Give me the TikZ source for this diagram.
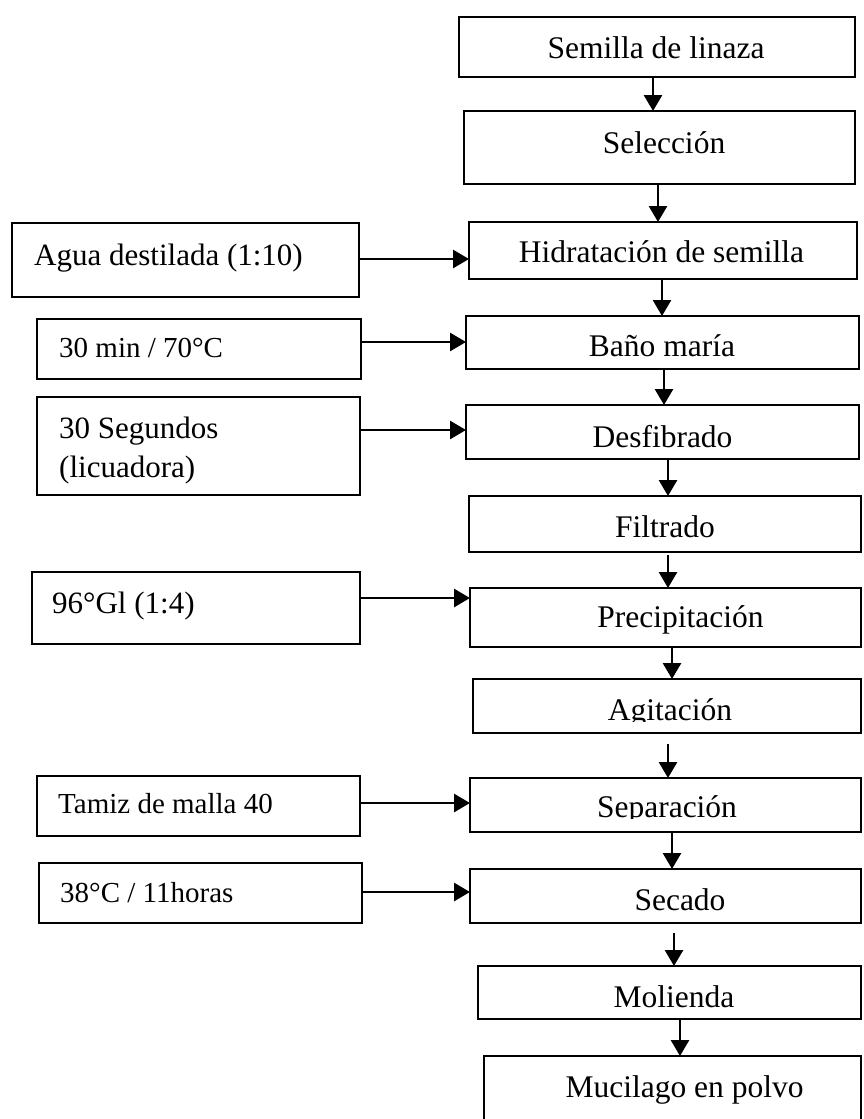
\documentclass[tikz,border=0pt]{standalone}
\usepackage{fontspec}
\setmainfont{Liberation Serif}
\usetikzlibrary{arrows.meta}
\begin{document}
\begin{tikzpicture}[x=1pt,y=-1pt,
  box/.style={draw=black,line width=2.8pt,inner sep=0pt,outer sep=0pt,fill=none},
  big/.style={inner sep=0pt,font=\fontsize{31.5}{38}\selectfont},
  lt/.style={inner sep=0pt,font=\fontsize{31}{38}\selectfont,anchor=base west},
  ls/.style={inner sep=0pt,font=\fontsize{29}{35}\selectfont,anchor=base west},
  arr/.style={line width=2.8pt,-{Triangle[width=18pt,length=16pt]}}]
\useasboundingbox (0,0) rectangle (863,1119);
% main column boxes
\node[box,minimum width=396pt,minimum height=60pt] (b1) at (657,47) {};
\node[box,minimum width=391pt,minimum height=73pt] (b2) at (659.5,147.5) {};
\node[box,minimum width=388pt,minimum height=57pt] (b3) at (663,250.5) {};
\node[box,minimum width=393pt,minimum height=53pt] (b4) at (662.5,342.5) {};
\node[box,minimum width=393pt,minimum height=54pt] (b5) at (662.5,432) {};
\node[box,minimum width=392pt,minimum height=56pt] (b6) at (665,524) {};
\node[box,minimum width=391pt,minimum height=59pt] (b7) at (665.5,617.5) {};
\node[box,minimum width=388pt,minimum height=54pt] (b8) at (667,706) {};
\node[box,minimum width=391pt,minimum height=54pt] (b9) at (665.5,805) {};
\node[box,minimum width=391pt,minimum height=54pt] (b10) at (665.5,896) {};
\node[box,minimum width=383pt,minimum height=53pt] (b11) at (669.5,992.5) {};
\node[box,minimum width=377pt,minimum height=84pt] (b12) at (672.5,1098) {};
% main texts
\node[big,anchor=base] (t1) at (656,58) {Semilla de linaza};
\node[big,anchor=base] (t2) at (664,153) {Selección};
\node[big,anchor=base] (t3) at (661.5,262) {Hidratación de semilla};
\node[big,anchor=base] (t4) at (662,356) {Baño maría};
\node[big,anchor=base] (t5) at (662.5,447) {Desfibrado};
\node[big,anchor=base] (t6) at (665,537) {Filtrado};
\node[big,anchor=base] (t7) at (680.5,627) {Precipitación};
\begin{scope}
\clip (470,680) rectangle (861,721);
\node[big,anchor=base] (t8) at (670,720) {Agitación};
\end{scope}
\begin{scope}
\clip (470,779) rectangle (861,818);
\node[big,anchor=base] (t9) at (667,817) {Separación};
\end{scope}
\node[big,anchor=base] (t10) at (680,910) {Secado};
\node[big,anchor=base] (t11) at (674,1007) {Molienda};
\node[big,anchor=base] (t12) at (684.5,1097) {Mucilago en polvo};
% side boxes
\node[box,minimum width=347pt,minimum height=74pt] (l1) at (185.5,260) {};
\node[box,minimum width=324pt,minimum height=60pt] (l2) at (199,349) {};
\node[box,minimum width=323pt,minimum height=98pt] (l3) at (198.5,446) {};
\node[box,minimum width=328pt,minimum height=72pt] (l4) at (196,608) {};
\node[box,minimum width=323pt,minimum height=60pt] (l5) at (198.5,806) {};
\node[box,minimum width=323pt,minimum height=60pt] (l6) at (200.5,893) {};
% side texts
\node[lt] (s1) at (34,265) {Agua destilada (1:10)};
\node[ls] (s2) at (59,357) {30 min / 70°C};
\node[lt] (s3a) at (59,438) {30 Segundos};
\node[lt] (s3b) at (59,477) {(licuadora)};
\node[lt] (s4) at (52,613) {96°Gl (1:4)};
\node[ls] (s5) at (58,813) {Tamiz de malla 40};
\node[ls] (s6) at (60,902) {38°C / 11horas};
% vertical arrows
\draw[arr] (b1.south -| 653,0) -- (b2.north -| 653,0);
\draw[arr] (b2.south -| 658,0) -- (b3.north -| 658,0);
\draw[arr] (b3.south -| 662,0) -- (b4.north -| 662,0);
\draw[arr] (b4.south -| 664,0) -- (b5.north -| 664,0);
\draw[arr] (b5.south -| 668,0) -- (b6.north -| 668,0);
\draw[arr,shorten <=3pt] (b6.south -| 668,0) -- (b7.north -| 668,0);
\draw[arr] (b7.south -| 672,0) -- (b8.north -| 672,0);
\draw[arr,shorten <=11pt] (b8.south -| 668,0) -- (b9.north -| 668,0);
\draw[arr] (b9.south -| 672,0) -- (b10.north -| 672,0);
\draw[arr,shorten <=10pt] (b10.south -| 674,0) -- (b11.north -| 674,0);
\draw[arr] (b11.south -| 680,0) -- (b12.north -| 680,0);
% horizontal arrows
\draw[arr] (l1.east |- 0,259) -- (b3.west |- 0,259);
\draw[arr] (l2.east |- 0,342) -- (b4.west |- 0,342);
\draw[arr] (l3.east |- 0,430) -- (b5.west |- 0,430);
\draw[arr] (l4.east |- 0,598) -- (b7.west |- 0,598);
\draw[arr] (l5.east |- 0,803) -- (b9.west |- 0,803);
\draw[arr] (l6.east |- 0,892) -- (b10.west |- 0,892);
\end{tikzpicture}
\end{document}
